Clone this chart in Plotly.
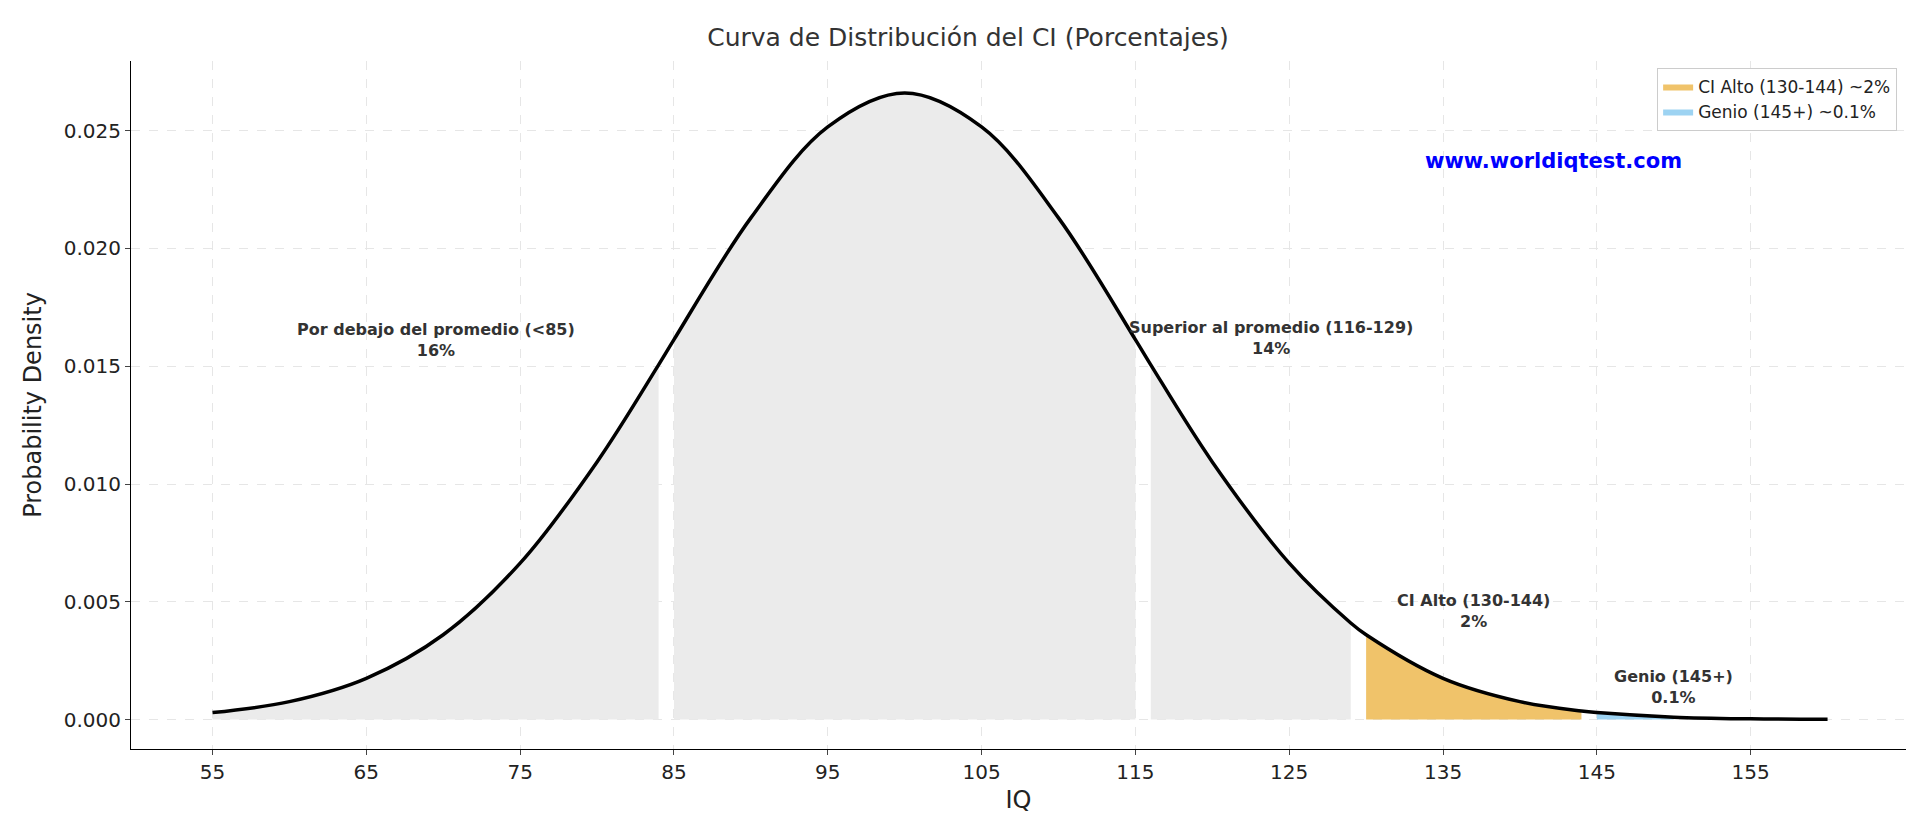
import plotly.graph_objects as go

# Curve values (IQ, density)
iq = [55, 60, 65, 70, 75, 80, 84, 85, 90, 95, 100, 105, 110, 115, 116, 120, 125, 129, 130, 135, 140, 144, 145, 150, 155, 160]
dens = [0.000295, 0.00076, 0.00175, 0.0036, 0.00664, 0.01094, 0.01506, 0.01613, 0.0213, 0.02516, 0.0266,
        0.02516, 0.0213, 0.01613, 0.01506, 0.01094, 0.00664, 0.0041, 0.0036, 0.00175, 0.00076, 0.00036,
        0.000295, 0.000103, 0.000032, 0.0000089]

regions = [(55, 84), (85, 115), (116, 129), (130, 144), (145, 150)]
region_colors = ["#ebebeb", "#ebebeb", "#ebebeb", "#f0c36a", "#9dd3f2"]
region_names = [None, None, None, "CI Alto (130-144) ~2%", "Genio (145+) ~0.1%"]

labels = ["Por debajo del promedio (<85)<br>16%", "Promedio (85-115)<br>68%",
          "Superior al promedio (116-129)<br>14%", "CI Alto (130-144)<br>2%", "Genio (145+)<br>0.1%"]
label_x = [69.5, 100, 123.8, 137, 150]
label_y = [0.0161, 0.0280, 0.0162, 0.0046, 0.0014]

fig = go.Figure()
for (a, b), c, n in zip(regions, region_colors, region_names):
    xs = [x for x in iq if a <= x <= b]
    ys = [d for x, d in zip(iq, dens) if a <= x <= b]
    fig.add_trace(go.Scatter(x=xs, y=ys, fill="tozeroy", fillcolor=c, mode="lines",
                             line=dict(width=0, shape="spline"), name=n or "",
                             showlegend=n is not None, hoverinfo="skip"))
fig.add_trace(go.Scatter(x=iq, y=dens, mode="lines", line=dict(color="black", width=3.5, shape="spline"),
                         showlegend=False))

for t, x, y in zip(labels, label_x, label_y):
    fig.add_annotation(x=x, y=y, text="<b>" + t + "</b>", showarrow=False,
                       font=dict(size=16, color="#333"))
fig.add_annotation(x=0.875, y=0.875, xref="paper", yref="paper", text="<b>www.worldiqtest.com</b>",
                   showarrow=False, font=dict(size=21, color="blue"))

fig.update_layout(
    width=1920, height=823, paper_bgcolor="white", plot_bgcolor="white",
    margin=dict(l=123, r=22, t=53, b=82),
    title=dict(text="Curva de Distribución del CI (Porcentajes)", x=0.5, y=0.975, font=dict(size=25, color="#333")),
    font=dict(family="DejaVu Sans", size=20, color="#222"),
    legend=dict(x=0.995, y=0.99, xanchor="right", yanchor="top", bordercolor="#ccc", borderwidth=1,
                font=dict(size=17)),
    xaxis=dict(title=dict(text="IQ", standoff=8), range=[49.7, 165.1], tickvals=list(range(55, 156, 10)), showgrid=True,
               gridcolor="#e6e6e6", griddash="dash", showline=True, linecolor="black", ticks="outside",
               zeroline=False),
    yaxis=dict(title="Probability Density", range=[-0.00125, 0.02796], tickformat=".3f", dtick=0.005,
               showgrid=True, gridcolor="#e6e6e6", griddash="dash", showline=True, linecolor="black",
               ticks="outside", zeroline=False),
)
fig.write_html("out.html")
